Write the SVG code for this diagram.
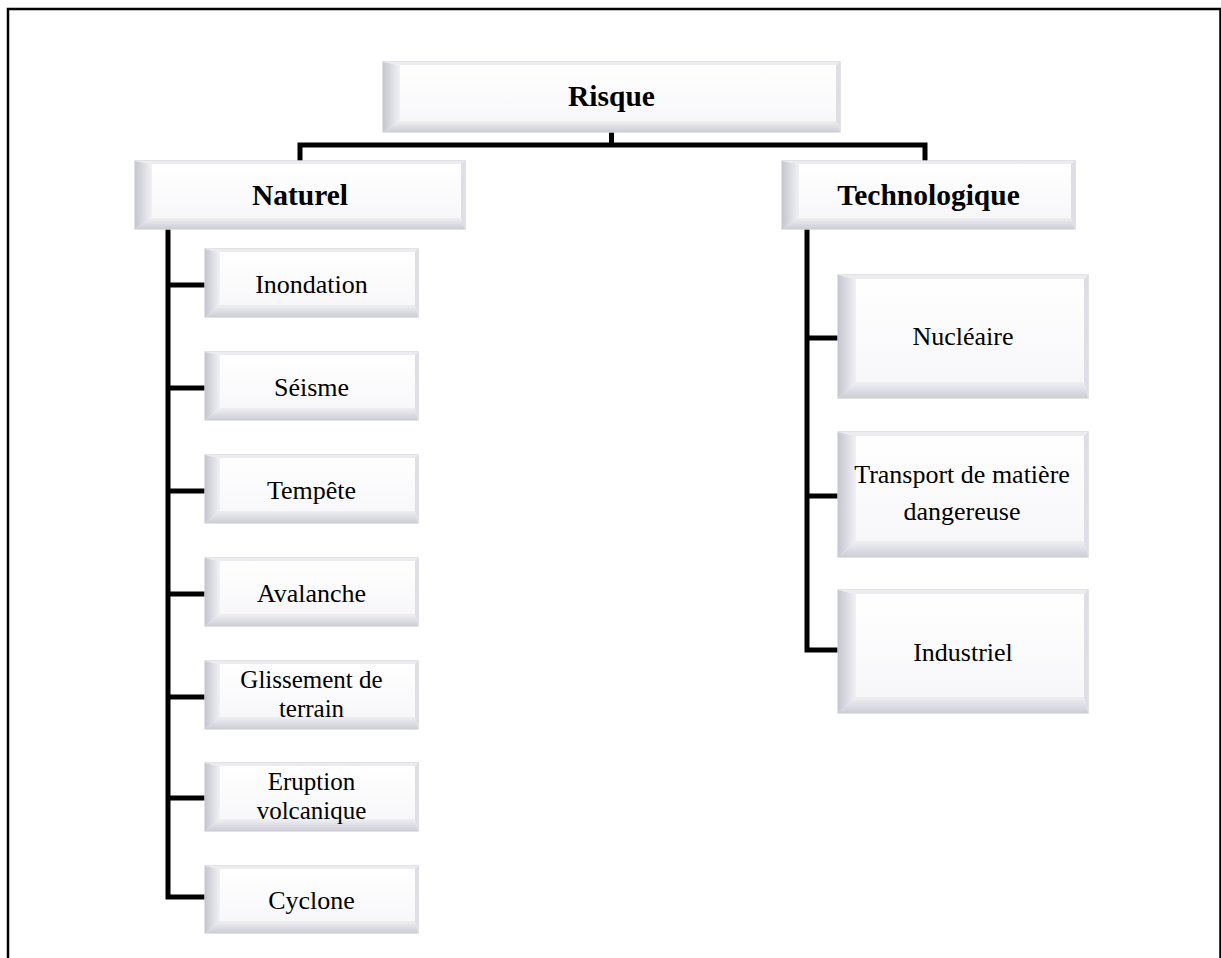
<svg xmlns="http://www.w3.org/2000/svg" width="1221" height="958" viewBox="0 0 1221 958">
<defs>
<linearGradient id="gL" x1="0" y1="0" x2="1" y2="0"><stop offset="0" stop-color="#c6c6d0"/><stop offset="1" stop-color="#f1f1f5"/></linearGradient>
<linearGradient id="gB" x1="0" y1="0" x2="0" y2="1"><stop offset="0" stop-color="#efeff3"/><stop offset="1" stop-color="#cdcdd6"/></linearGradient>
<linearGradient id="gF" x1="0" y1="0" x2="0" y2="1"><stop offset="0" stop-color="#ffffff"/><stop offset="1" stop-color="#f6f6f9"/></linearGradient>
<style>
.bx{fill:url(#gF);stroke:#d9d9dd;stroke-width:1.5}
.bl{fill:url(#gL)}
.bb{fill:url(#gB)}
.bt{fill:#ececf0}
.br{fill:#dedee4}
.t{font-family:"Liberation Serif","Times New Roman",serif;font-size:26px;fill:#000;text-anchor:middle}
.t2{font-family:"Liberation Serif","Times New Roman",serif;font-size:25px;fill:#000;text-anchor:middle}
.h{font-family:"Liberation Serif","Times New Roman",serif;font-size:29.5px;font-weight:bold;fill:#000;text-anchor:middle}
.c{fill:none;stroke:#000;stroke-width:5;stroke-linejoin:miter;stroke-linecap:butt}
</style>
</defs>
<rect width="1221" height="958" fill="#fff"/>
<path d="M8,962 V9 H1220.5 V962" fill="none" stroke="#000" stroke-width="2.5"/>

<g id="connectors">
<path class="c" d="M611.5,132 V145"/>
<path class="c" d="M300,161 V145 H925 V161"/>
<path class="c" d="M168,229 V897 H205"/>
<path class="c" d="M168,285 H205 M168,388 H205 M168,491 H205 M168,594 H205 M168,697 H205 M168,798 H205"/>
<path class="c" d="M807,229 V650 H838"/>
<path class="c" d="M807,338 H838 M807,496 H838"/>
</g>

<g id="risque">
<rect class="bx" x="383" y="62" width="457" height="70"/>
<path class="bl" d="M383,62 L400,65 L400,121 L383,132 Z"/>
<path class="bb" d="M383,132 L400,121 L836,121 L840,132 Z"/>
<path class="bt" d="M383,62 L840,62 L836,65 L400,65 Z"/>
<path class="br" d="M840,62 L840,132 L836,121 L836,65 Z"/>
<text class="h" x="611.5" y="106">Risque</text>
</g>

<g id="naturel">
<rect class="bx" x="135" y="161" width="330" height="68"/>
<path class="bl" d="M135,161 L152,164 L152,218 L135,229 Z"/>
<path class="bb" d="M135,229 L152,218 L461,218 L465,229 Z"/>
<path class="bt" d="M135,161 L465,161 L461,164 L152,164 Z"/>
<path class="br" d="M465,161 L465,229 L461,218 L461,164 Z"/>
<text class="h" x="300" y="205">Naturel</text>
</g>

<g id="technologique">
<rect class="bx" x="782" y="161" width="293" height="68"/>
<path class="bl" d="M782,161 L799,164 L799,218 L782,229 Z"/>
<path class="bb" d="M782,229 L799,218 L1071,218 L1075,229 Z"/>
<path class="bt" d="M782,161 L1075,161 L1071,164 L799,164 Z"/>
<path class="br" d="M1075,161 L1075,229 L1071,218 L1071,164 Z"/>
<text class="h" x="928.5" y="205">Technologique</text>
</g>

<g id="inondation">
<rect class="bx" x="205" y="249" width="213" height="68"/>
<path class="bl" d="M205,249 L220,252 L220,305 L205,317 Z"/>
<path class="bb" d="M205,317 L220,305 L415,305 L418,317 Z"/>
<path class="bt" d="M205,249 L418,249 L415,252 L220,252 Z"/>
<path class="br" d="M418,249 L418,317 L415,305 L415,252 Z"/>
<text class="t" x="311.5" y="293">Inondation</text>
</g>

<g id="seisme">
<rect class="bx" x="205" y="352" width="213" height="68"/>
<path class="bl" d="M205,352 L220,355 L220,408 L205,420 Z"/>
<path class="bb" d="M205,420 L220,408 L415,408 L418,420 Z"/>
<path class="bt" d="M205,352 L418,352 L415,355 L220,355 Z"/>
<path class="br" d="M418,352 L418,420 L415,408 L415,355 Z"/>
<text class="t" x="311.5" y="396">Séisme</text>
</g>

<g id="tempete">
<rect class="bx" x="205" y="455" width="213" height="68"/>
<path class="bl" d="M205,455 L220,458 L220,511 L205,523 Z"/>
<path class="bb" d="M205,523 L220,511 L415,511 L418,523 Z"/>
<path class="bt" d="M205,455 L418,455 L415,458 L220,458 Z"/>
<path class="br" d="M418,455 L418,523 L415,511 L415,458 Z"/>
<text class="t" x="311.5" y="499">Tempête</text>
</g>

<g id="avalanche">
<rect class="bx" x="205" y="558" width="213" height="68"/>
<path class="bl" d="M205,558 L220,561 L220,614 L205,626 Z"/>
<path class="bb" d="M205,626 L220,614 L415,614 L418,626 Z"/>
<path class="bt" d="M205,558 L418,558 L415,561 L220,561 Z"/>
<path class="br" d="M418,558 L418,626 L415,614 L415,561 Z"/>
<text class="t" x="311.5" y="602">Avalanche</text>
</g>

<g id="glissement">
<rect class="bx" x="205" y="661" width="213" height="68"/>
<path class="bl" d="M205,661 L220,664 L220,717 L205,729 Z"/>
<path class="bb" d="M205,729 L220,717 L415,717 L418,729 Z"/>
<path class="bt" d="M205,661 L418,661 L415,664 L220,664 Z"/>
<path class="br" d="M418,661 L418,729 L415,717 L415,664 Z"/>
<text class="t2" x="311.5" y="688">Glissement de</text>
<text class="t2" x="311.5" y="717">terrain</text>
</g>

<g id="eruption">
<rect class="bx" x="205" y="763" width="213" height="68"/>
<path class="bl" d="M205,763 L220,766 L220,819 L205,831 Z"/>
<path class="bb" d="M205,831 L220,819 L415,819 L418,831 Z"/>
<path class="bt" d="M205,763 L418,763 L415,766 L220,766 Z"/>
<path class="br" d="M418,763 L418,831 L415,819 L415,766 Z"/>
<text class="t2" x="311.5" y="790">Eruption</text>
<text class="t2" x="311.5" y="819">volcanique</text>
</g>

<g id="cyclone">
<rect class="bx" x="205" y="866" width="213" height="67"/>
<path class="bl" d="M205,866 L220,869 L220,921 L205,933 Z"/>
<path class="bb" d="M205,933 L220,921 L415,921 L418,933 Z"/>
<path class="bt" d="M205,866 L418,866 L415,869 L220,869 Z"/>
<path class="br" d="M418,866 L418,933 L415,921 L415,869 Z"/>
<text class="t" x="311.5" y="909">Cyclone</text>
</g>

<g id="nucleaire">
<rect class="bx" x="838" y="275" width="250" height="123"/>
<path class="bl" d="M838,275 L856,279 L856,382 L838,398 Z"/>
<path class="bb" d="M838,398 L856,382 L1084,382 L1088,398 Z"/>
<path class="bt" d="M838,275 L1088,275 L1084,279 L856,279 Z"/>
<path class="br" d="M1088,275 L1088,398 L1084,382 L1084,279 Z"/>
<text class="t" x="963" y="345">Nucléaire</text>
</g>

<g id="transport">
<rect class="bx" x="838" y="432" width="250" height="125"/>
<path class="bl" d="M838,432 L856,436 L856,541 L838,557 Z"/>
<path class="bb" d="M838,557 L856,541 L1084,541 L1088,557 Z"/>
<path class="bt" d="M838,432 L1088,432 L1084,436 L856,436 Z"/>
<path class="br" d="M1088,432 L1088,557 L1084,541 L1084,436 Z"/>
<text class="t" x="962" y="483">Transport de matière</text>
<text class="t" x="962" y="520">dangereuse</text>
</g>

<g id="industriel">
<rect class="bx" x="838" y="590" width="250" height="123"/>
<path class="bl" d="M838,590 L856,594 L856,697 L838,713 Z"/>
<path class="bb" d="M838,713 L856,697 L1084,697 L1088,713 Z"/>
<path class="bt" d="M838,590 L1088,590 L1084,594 L856,594 Z"/>
<path class="br" d="M1088,590 L1088,713 L1084,697 L1084,594 Z"/>
<text class="t" x="963" y="661">Industriel</text>
</g>
</svg>
